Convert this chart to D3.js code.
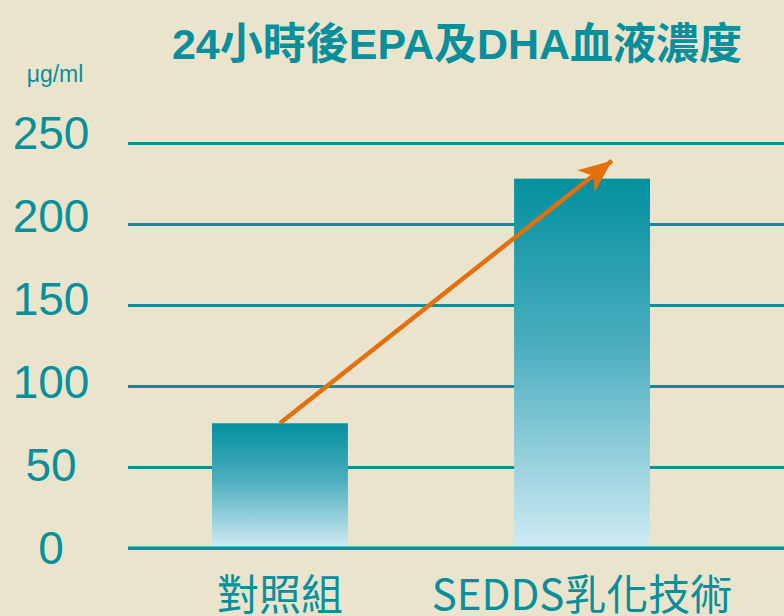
<!DOCTYPE html>
<html>
<head>
<meta charset="utf-8">
<script src="https://cdn.jsdelivr.net/npm/d3@7"></script>
<style>
  html, body { margin: 0; padding: 0; background: #ebe4cc; }
  svg { display: block; }
</style>
</head>
<body>
<div id="chart"></div>
<script>
// data
var categories = ["對照組", "SEDDS乳化技術"];
var values = [77, 228];
var yTicks = [0, 50, 100, 150, 200, 250];
var titleText = "24小時後EPA及DHA血液濃度";
var unitText = "μg/ml";
// arrow runs from top of first bar to a bit above the second
var arrowValues = [77, 239];

var width = 784, height = 616;
var teal = "#078f9c", orange = "#e3700c";

var svg = d3.select("#chart").append("svg")
    .attr("width", width)
    .attr("height", height);

svg.append("rect")
    .attr("width", width)
    .attr("height", height)
    .attr("fill", "#ebe4cc");

var defs = svg.append("defs");
var grad = defs.append("linearGradient")
    .attr("id", "barGrad")
    .attr("x1", 0).attr("y1", 0)
    .attr("x2", 0).attr("y2", 1);
grad.append("stop").attr("offset", "0%").attr("stop-color", "#03909e");
grad.append("stop").attr("offset", "45%").attr("stop-color", "#4aaebf");
grad.append("stop").attr("offset", "100%").attr("stop-color", "#d0ebf3");

defs.append("marker")
    .attr("id", "arrowHead")
    .attr("markerUnits", "userSpaceOnUse")
    .attr("viewBox", "-34 -15 36 30")
    .attr("refX", 0).attr("refY", 0)
    .attr("markerWidth", 36).attr("markerHeight", 30)
    .attr("orient", "auto")
  .append("path")
    .attr("d", "M0,0 L-33,-14 L-24,0 L-33,14 Z")
    .attr("fill", orange);

// scales
var y = d3.scaleLinear().domain([0, 250]).range([548, 143]);
// labels sit on a slightly different spacing than the grid lines
var yLabel = d3.scaleLinear().domain([0, 250]).range([564, 149]);
var x = d3.scaleBand()
    .domain(categories)
    .range([128, 734])
    .paddingInner(0.55)
    .paddingOuter(0.278);

// grid lines
var grid = svg.append("g")
    .attr("class", "grid")
    .attr("transform", "translate(128,0)")
    .call(d3.axisLeft(y).tickValues(yTicks).tickSize(-(width - 128)).tickFormat(""));
grid.select(".domain").remove();
grid.selectAll("line")
    .attr("stroke", teal)
    .attr("stroke-width", 3);

// y labels
svg.append("g")
    .selectAll("text")
    .data(yTicks)
    .enter().append("text")
    .attr("x", 51)
    .attr("y", function(d) { return yLabel(d); })
    .attr("text-anchor", "middle")
    .attr("fill", teal)
    .style("font-family", "'Liberation Sans', Arial, sans-serif")
    .style("font-size", "46px")
    .text(function(d) { return d; });

// bars
svg.selectAll(".bar")
    .data(values)
    .enter().append("rect")
    .attr("class", "bar")
    .attr("x", function(d, i) { return x(categories[i]); })
    .attr("y", function(d) { return y(d); })
    .attr("width", x.bandwidth())
    .attr("height", function(d) { return y(0) - y(d); })
    .attr("fill", "url(#barGrad)");

// baseline over the bars
svg.append("line")
    .attr("x1", 128).attr("x2", width)
    .attr("y1", y(0)).attr("y2", y(0))
    .attr("stroke", teal)
    .attr("stroke-width", 3);

// arrow
svg.append("line")
    .attr("x1", x(categories[0]) + x.bandwidth() / 2)
    .attr("y1", y(arrowValues[0]))
    .attr("x2", x(categories[1]) + x.bandwidth() * 0.72)
    .attr("y2", y(arrowValues[1]))
    .attr("stroke", orange)
    .attr("stroke-width", 4.5)
    .attr("marker-end", "url(#arrowHead)");

// category labels
svg.append("g")
    .selectAll("text")
    .data(categories)
    .enter().append("text")
    .attr("x", function(d) { return x(d) + x.bandwidth() / 2; })
    .attr("y", 610)
    .attr("text-anchor", "middle")
    .attr("fill", teal)
    .style("font-family", "'Noto Sans CJK TC', 'Noto Sans', sans-serif")
    .style("font-size", "42px")
    .text(function(d) { return d; });

// title
svg.append("text")
    .attr("x", 457)
    .attr("y", 59)
    .attr("text-anchor", "middle")
    .attr("fill", teal)
    .style("font-family", "'Liberation Sans', 'Noto Sans CJK TC', sans-serif")
    .style("font-weight", "bold")
    .style("font-size", "43px")
    .text(titleText);

// unit
svg.append("text")
    .attr("x", 55)
    .attr("y", 82)
    .attr("text-anchor", "middle")
    .attr("fill", teal)
    .style("font-family", "'Liberation Sans', Arial, sans-serif")
    .style("font-size", "23px")
    .text(unitText);
</script>
</body>
</html>
